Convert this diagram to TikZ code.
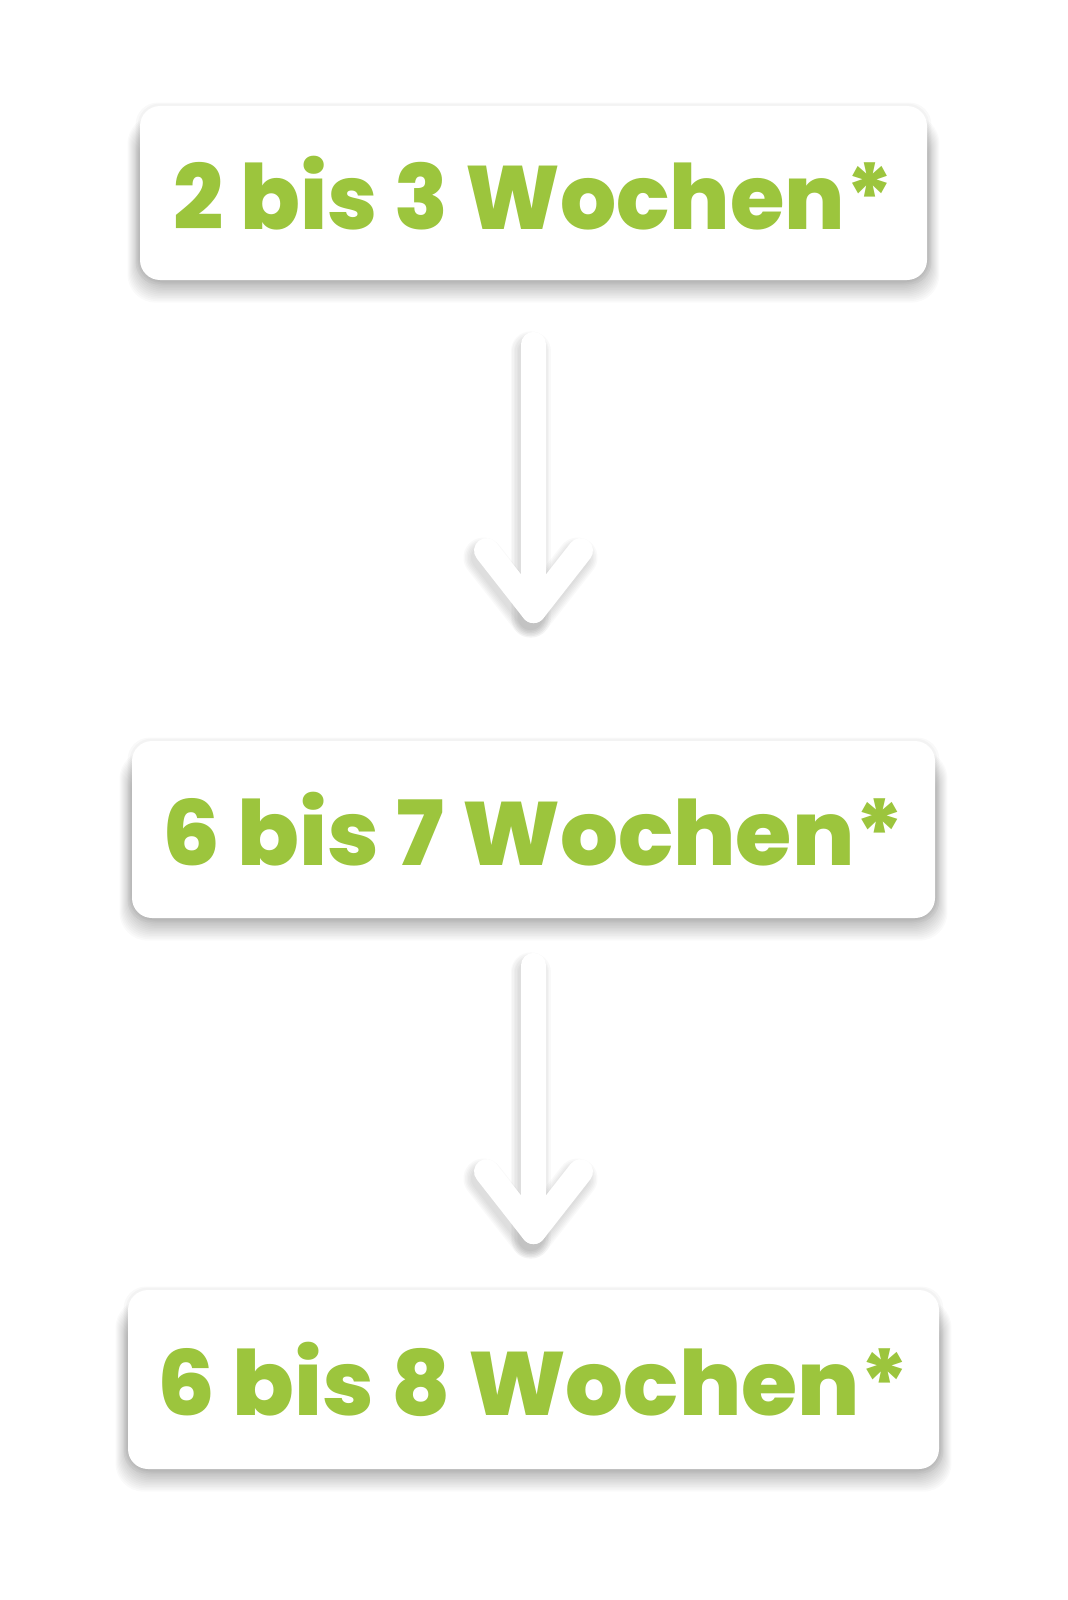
\documentclass[tikz,border=0pt]{standalone}
\usepackage{fontspec}
\usepackage{graphicx}
\newfontfamily\boxfont{Poppins ExtraBold}
\usetikzlibrary{calc,backgrounds}
\definecolor{wgreen}{HTML}{9CC53D}
\definecolor{shgray}{HTML}{606060}
\tikzset{
  box/.style={rectangle, rounded corners=10pt, fill=white, inner sep=0pt,
    text=wgreen, font=\fontsize{45}{50}\selectfont\boxfont},
  arrowline/.style={draw=white, line width=12.5pt, line cap=round, line join=round},
  arrowshadow/.style={draw=shgray, line cap=round, line join=round, opacity=0.035},
  boxshadow/.style={fill=black, opacity=0.02, rounded corners=14pt},
  boxhalo/.style={fill=black, opacity=0.025, rounded corners=11pt}
}
\newcommand{\myarrow}[2]{%
  \foreach \w in {12.5,14,15.5,17,18.5,20}{%
    \draw[arrowshadow, line width=\w pt] ($(#1)+(-3,7)$) -- ($(#2)+(-3,7)$);
    \draw[arrowshadow, line width=\w pt] ($(#2)+(-50,-53)$) -- ($(#2)+(-3,7)$) -- ($(#2)+(44,-53)$);
  }
  \draw[arrowline] (#1) -- (#2);
  \draw[arrowline] ($(#2)+(-47,-60)$) -- (#2) -- ($(#2)+(47,-60)$);
}
\newcommand{\myshadow}[1]{%
  \fill[boxhalo] ($(#1.south west)+(-2,2)$) rectangle ($(#1.north east)+(2,-2)$);
  \fill[boxhalo] ($(#1.south west)+(-4,4)$) rectangle ($(#1.north east)+(4,-3)$);
  \foreach \k in {0,2,...,24}{%
    \fill[boxshadow] ($(#1.south west)+(-0.5*\k,3+0.8*\k)$) rectangle ($(#1.north east)+(0.5*\k,22-0.5*\k)$);
  }
}
\begin{document}
\begin{tikzpicture}[x=0.5pt,y=-0.5pt]
\useasboundingbox (0,0) rectangle (1067,1600);
\node[box, minimum width=393.5pt, minimum height=87pt] (b1) at (533.5,193) {\scalebox{0.98}[1]{2 bis 3 Wochen*}};
\node[box, minimum width=401.5pt, minimum height=88.5pt] (b2) at (533.5,829.5) {\scalebox{1.013}[1]{6 bis 7 Wochen*}};
\node[box, minimum width=405.5pt, minimum height=89.5pt] (b3) at (533.5,1379.5) {\scalebox{1.011}[1]{6 bis 8 Wochen*}};
\begin{scope}[on background layer]
\fill[white] (0,0) rectangle (1067,1600);
\myshadow{b1}
\myshadow{b2}
\myshadow{b3}
\end{scope}
\coordinate (a1s) at ($(b1.south)+(0,64)$);
\coordinate (a1t) at ($(b2.north)+(0,-130)$);
\coordinate (a2s) at ($(b2.south)+(0,47)$);
\coordinate (a2t) at ($(b3.north)+(0,-58)$);
\myarrow{a1s}{a1t}
\myarrow{a2s}{a2t}
\end{tikzpicture}
\end{document}
